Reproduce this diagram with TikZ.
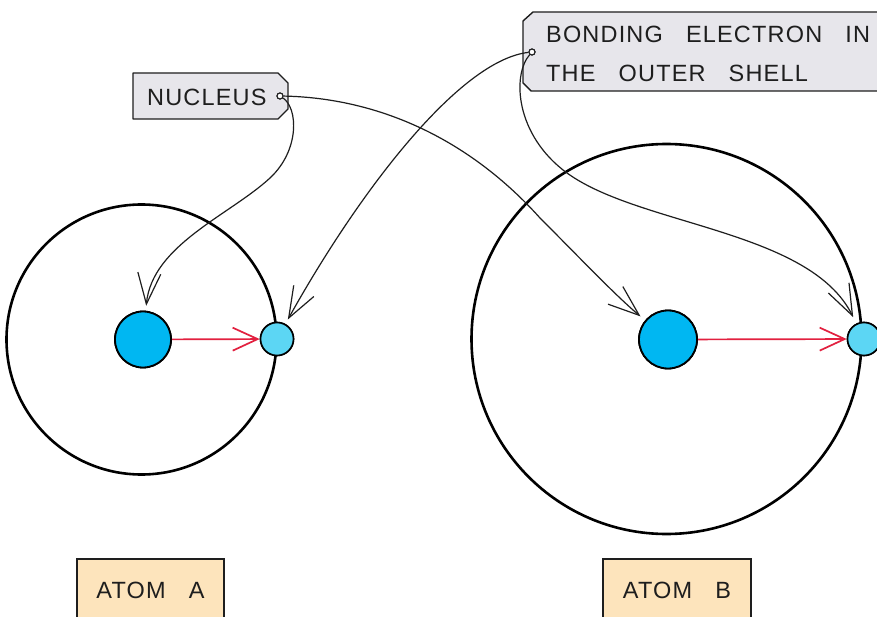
\documentclass[tikz,border=0pt]{standalone}
\usepackage{fontspec}
\usetikzlibrary{arrows.meta}
\newfontfamily\labfont[LetterSpace=5,WordSpace=3.0]{Liberation Sans}
\definecolor{nucblue}{HTML}{00B7F2}
\definecolor{elecblue}{HTML}{5CD6F4}
\definecolor{redarrow}{HTML}{E2203F}
\definecolor{taggray}{HTML}{E7E6EB}
\definecolor{atompeach}{HTML}{FDE4BC}
\definecolor{ink}{HTML}{1E1E1E}
\tikzset{
  shell/.style={circle,draw=black,line width=2.6pt,inner sep=0pt},
  nucleus/.style={circle,draw=black,fill=nucblue,line width=1.8pt,inner sep=0pt,minimum size=56pt},
  electron/.style={circle,draw=black,fill=elecblue,line width=1.6pt,inner sep=0pt,minimum size=33pt},
  tagbox/.style={draw=ink,fill=taggray,line width=1.4pt,line join=round},
  atombox/.style={draw=ink,fill=atompeach,line width=1.4pt},
  lbl/.style={font=\labfont\fontsize{23.5}{28}\selectfont,text=ink,inner sep=0pt},
  pointer/.style={draw=ink,line width=1.2pt,-{Straight Barb[length=31pt,width=23pt]}},
  radius arrow/.style={draw=redarrow,line width=1.7pt,-{Straight Barb[length=25pt,width=23pt]}},
  hole/.style={circle,draw=ink,fill=white,line width=1.1pt,inner sep=0pt,minimum size=6pt}
}
\begin{document}
\begin{tikzpicture}[x=1pt,y=-1pt]
\fill[white] (0,0) rectangle (877,617);
\useasboundingbox (0,0) rectangle (877,617);

% shells
\node[shell,minimum size=270pt] (shellA) at (141.5,339.5) {};
\node[shell,minimum size=390pt] (shellB) at (666.5,339) {};

% labels: tags
\draw[tagbox] (133,73) -- (278,73) -- (288,83) -- (288,109) -- (278,119) -- (133,119) -- cycle;
\draw[tagbox] (533,12) -- (895,12) -- (895,91) -- (531,91) -- (523,83) -- (523,21) -- cycle;
\node[lbl,anchor=base west] (nuclab) at (147,106) {NUCLEUS};
\node[lbl,anchor=base west] (bondlab1) at (546,43) {BONDING ELECTRON IN};
\node[lbl,anchor=base west] (bondlab2) at (546,82) {THE OUTER SHELL};
\node[hole] (holeN) at (280,96) {};
\node[hole] (holeB) at (532,52) {};

% atom labels
\draw[atombox] (77,559) rectangle (224,640);
\draw[atombox] (603,559) rectangle (751,640);
\node[lbl,anchor=base] (atomAlab) at (150.5,598) {ATOM A};
\node[lbl,anchor=base] (atomBlab) at (677,598) {ATOM B};

% nuclei and electrons
\node[nucleus] (nucA) at (143,339.5) {};
\node[electron] (elecA) at (277,339) {};
\node[nucleus,minimum size=58pt] (nucB) at (668,339.5) {};
\node[electron] (elecB) at (864,339) {};

% red radius arrows
\draw[radius arrow] (nucA) -- (elecA);
\draw[radius arrow] (nucB) -- (elecB);

% pointers
\draw[pointer,shorten >=5pt] (holeN) .. controls (298,108) and (300,150) .. (270,178)
   .. controls (230,215) and (152,245) .. (nucA);
\draw[pointer,shorten >=6pt] (holeN) .. controls (380,98) and (470,140) .. (540,218)
   .. controls (580,258) and (615,295) .. (nucB);
\draw[pointer,shorten >=5pt] (holeB) .. controls (460,60) and (360,190) .. (elecA);
\draw[pointer,shorten >=7pt] (holeB) .. controls (512,75) and (515,135) .. (567,173)
   .. controls (640,226) and (810,230) .. (elecB);

% redraw shapes on top
\node[nucleus] at (nucA) {};
\node[electron] at (elecA) {};
\node[nucleus,minimum size=58pt] at (nucB) {};
\node[electron] at (elecB) {};
\node[hole] at (holeN) {};
\node[hole] at (holeB) {};
\end{tikzpicture}
\end{document}
